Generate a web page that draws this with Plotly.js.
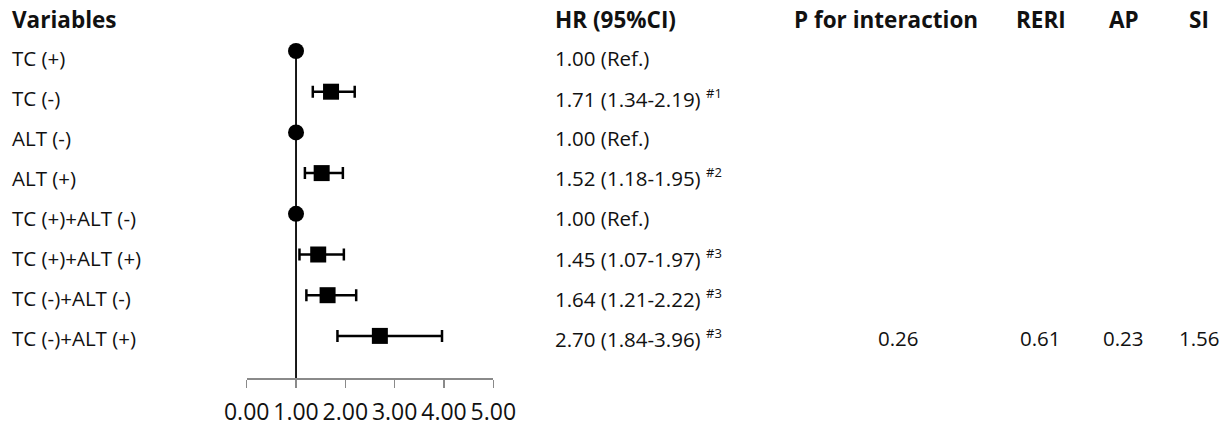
<!DOCTYPE html>
<html>
<head>
<meta charset="utf-8">
<script src="https://cdn.plot.ly/plotly-3.0.1.min.js"></script>
<style>html,body{margin:0;padding:0;background:#fff;}#chart{width:1226px;height:424px;}</style>
</head>
<body>
<div id="chart"></div>
<script>
// ---- data ----
const variables = ['TC (+)', 'TC (-)', 'ALT (-)', 'ALT (+)', 'TC (+)+ALT (-)', 'TC (+)+ALT (+)', 'TC (-)+ALT (-)', 'TC (-)+ALT (+)'];
const hr      = [1.00, 1.71, 1.00, 1.52, 1.00, 1.45, 1.64, 2.70];
const ciLow   = [null, 1.34, null, 1.18, null, 1.07, 1.21, 1.84];
const ciHigh  = [null, 2.19, null, 1.95, null, 1.97, 2.22, 3.96];
const isRef   = [true, false, true, false, true, false, false, false];
const hrNotes = ['', '#1', '', '#2', '', '#3', '#3', '#3'];
const pInteraction = ['', '', '', '', '', '', '', '0.26'];
const reri = ['', '', '', '', '', '', '', '0.61'];
const ap   = ['', '', '', '', '', '', '', '0.23'];
const si   = ['', '', '', '', '', '', '', '1.56'];
const tickVals = [0, 1, 2, 3, 4, 5];
const tickLabels = ['0.00', '1.00', '2.00', '3.00', '4.00', '5.00'];
const headers = {variables: 'Variables', hr: 'HR (95%CI)', p: 'P for interaction', reri: 'RERI', ap: 'AP', si: 'SI'};

// ---- build ----
const W = 1226, H = 424;
const FONT = '"Open Sans", "Noto Sans", sans-serif';
const rows = variables.map((_, i) => i);
const px = v => v / W;
const py = v => 1 - v / H;
const textY = i => py(58 + 40 * i);

const refX = [], refY = [], estX = [], estY = [], errPlus = [], errMinus = [];
rows.forEach(i => {
  if (isRef[i]) { refX.push(hr[i]); refY.push(i); }
  else {
    estX.push(hr[i]); estY.push(i);
    errPlus.push(ciHigh[i] - hr[i]);
    errMinus.push(hr[i] - ciLow[i]);
  }
});

const hrText = rows.map(i => {
  const base = isRef[i] ? hr[i].toFixed(2) + ' (Ref.)'
    : hr[i].toFixed(2) + ' (' + ciLow[i].toFixed(2) + '-' + ciHigh[i].toFixed(2) + ')';
  return hrNotes[i] ? base + ' <sup><span style="font-size:13px">' + hrNotes[i] + '</span></sup>' : base;
});

const traces = [
  {
    type: 'scatter', mode: 'markers', x: refX, y: refY,
    marker: {symbol: 'circle', size: 16, color: '#000'},
    hoverinfo: 'skip', showlegend: false, cliponaxis: false
  },
  {
    type: 'scatter', mode: 'markers', x: estX, y: estY,
    marker: {symbol: 'square', size: 16, color: '#000'},
    error_x: {type: 'data', symmetric: false, array: errPlus, arrayminus: errMinus,
              color: '#000', thickness: 2.5, width: 6},
    hoverinfo: 'skip', showlegend: false, cliponaxis: false
  }
];

const txtFont = {family: FONT, size: 20.5, color: '#111'};
const hdrFont = {family: FONT, size: 22.5, color: '#111', weight: 700};
const ann = [];
function add(text, x, y, xanchor, font) {
  ann.push({text, x, y, xref: 'paper', yref: 'paper', xanchor, yanchor: 'middle',
            showarrow: false, font});
}
add('<b>' + headers.variables + '</b>', px(10), py(20), 'left', hdrFont);
add('<b>' + headers.hr + '</b>', px(553), py(20), 'left', hdrFont);
add('<b>' + headers.p + '</b>', px(886), py(20), 'center', hdrFont);
add('<b>' + headers.reri + '</b>', px(1041), py(20), 'center', hdrFont);
add('<b>' + headers.ap + '</b>', px(1124), py(20), 'center', hdrFont);
add('<b>' + headers.si + '</b>', px(1199), py(20), 'center', hdrFont);
rows.forEach(i => {
  add(variables[i], px(10), textY(i), 'left', txtFont);
  add(hrText[i], px(553), textY(i), 'left', txtFont);
  if (pInteraction[i]) add(pInteraction[i], px(898), textY(i), 'center', txtFont);
  if (reri[i]) add(reri[i], px(1040), textY(i), 'center', txtFont);
  if (ap[i]) add(ap[i], px(1123), textY(i), 'center', txtFont);
  if (si[i]) add(si[i], px(1199), textY(i), 'center', txtFont);
});

const y0px = 51, rowPx = 40.7;
const layout = {
  width: W, height: H,
  margin: {l: 0, r: 0, t: 0, b: 0, pad: 0},
  paper_bgcolor: '#fff', plot_bgcolor: 'rgba(0,0,0,0)',
  showlegend: false,
  xaxis: {
    domain: [px(246.7), px(493.3)], range: [0, 5],
    anchor: 'free', position: py(378),
    showline: true, linecolor: '#8a8a8a', linewidth: 1.5,
    ticks: 'outside', ticklen: 8, tickwidth: 1.5, tickcolor: '#8a8a8a',
    tickmode: 'array', tickvals: tickVals, ticktext: tickLabels,
    tickangle: 0, autotickangles: [0],
    tickfont: {family: FONT, size: 23, color: '#111'},
    ticklabelstandoff: 5,
    showgrid: false, zeroline: false, fixedrange: true
  },
  yaxis: {
    range: [(H - y0px) / rowPx, -y0px / rowPx],
    visible: false, showgrid: false, zeroline: false, fixedrange: true
  },
  shapes: [{
    type: 'line', xref: 'x', yref: 'y', x0: 1, x1: 1, y0: 0, y1: (386 - y0px) / rowPx,
    line: {color: '#000', width: 1.8}, layer: 'below'
  }],
  annotations: ann
};

Plotly.newPlot('chart', traces, layout, {displayModeBar: false, staticPlot: true});
</script>
</body>
</html>
